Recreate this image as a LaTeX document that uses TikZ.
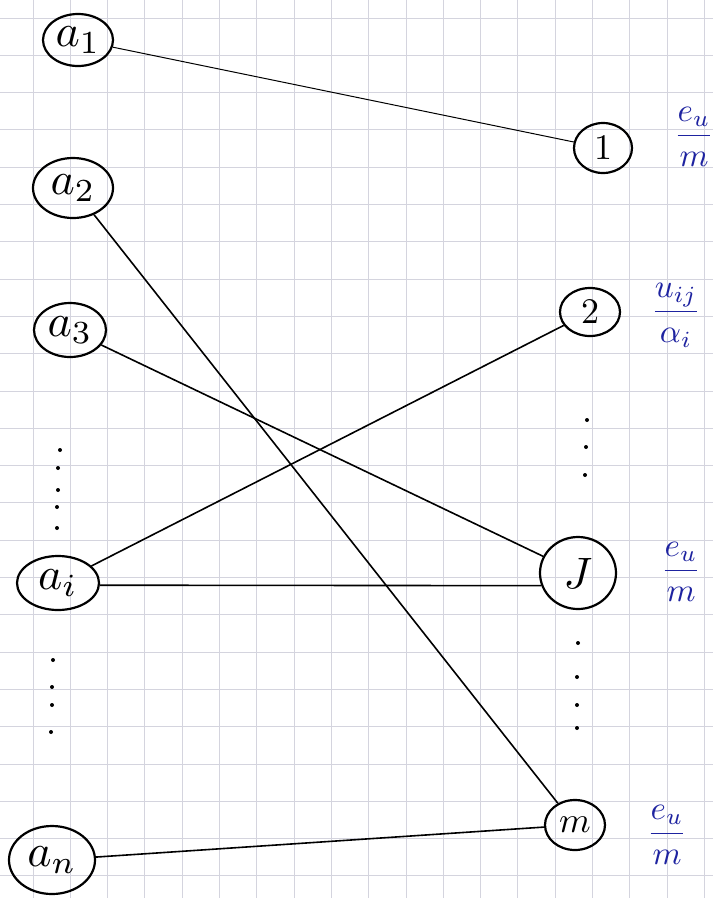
\documentclass[tikz,border=0pt]{standalone}
\usepackage{amsmath}
\usepackage{graphicx}
\usetikzlibrary{shapes.geometric}
\definecolor{gridc}{RGB}{212,212,222}
\definecolor{inkblue}{RGB}{30,35,160}
\newcommand{\vlab}[2][4.6]{\scalebox{#1}{$#2$}}
\newcommand{\blab}[2]{\scalebox{3.3}{$\dfrac{#1}{#2}$}}
\begin{document}
\begin{tikzpicture}[x=1pt,y=-1pt,
  vert/.style={ellipse,draw,line width=2.2pt,inner sep=0pt},
  edge/.style={line width=1.6pt},
  thin edge/.style={line width=1pt},
  lab/.style={text=inkblue,inner sep=0pt},
  dotc/.style={circle,fill=black,inner sep=0pt,minimum size=4pt}]
\useasboundingbox (0,0) rectangle (713,898);
\clip (0,0) rectangle (713,898);
\fill[white] (0,0) rectangle (713,898);
% grid
\foreach \k in {0,...,19} {
  \draw[gridc,line width=1pt] ({33+37.3*(\k-1)},0) -- ({33+37.3*(\k-1)},898);
}
\foreach \k in {0,...,24} {
  \draw[gridc,line width=1pt] (0,{18+37.3*(\k-1)}) -- (713,{18+37.3*(\k-1)});
}
% left nodes
\node[vert,minimum width=70pt,minimum height=52pt] (a1) at (78,40) {\vlab{a_1}};
\node[vert,minimum width=80pt,minimum height=60pt] (a2) at (73,188) {\vlab{a_2}};
\node[vert,minimum width=72pt,minimum height=54pt] (a3) at (70,330) {\vlab{a_3}};
\node[vert,minimum width=82pt,minimum height=54pt] (ai) at (58,583) {\vlab{a_i}};
\node[vert,minimum width=86pt,minimum height=68pt] (an) at (52,860) {\vlab{a_n}};
% right nodes
\node[vert,minimum width=58pt,minimum height=50pt] (r1) at (603,148) {\vlab[3.6]{1}};
\node[vert,minimum width=60pt,minimum height=48pt] (r2) at (590,312) {\vlab[3.6]{2}};
\node[vert,minimum width=76pt,minimum height=72pt] (rJ) at (578,573) {\vlab[4.4]{J}};
\node[vert,minimum width=60pt,minimum height=50pt] (rm) at (575,825) {\vlab[3.6]{m}};
% edges
\draw[thin edge] (a1) -- (r1);
\draw[edge] (a2) -- (rm);
\draw[edge] (a3) -- (rJ);
\draw[edge] (ai) -- (r2);
\draw[edge] (ai.-3) -- (rJ.199);
\draw[edge] (an) -- (rm);
% dots
\foreach \y/\x in {450/60,468/58,490/58,507/57,528/57,660/53,687/52,705/52,732/51}
  \node[dotc] at (\x,\y) {};
\foreach \y/\x in {420/587,447/586,475/585,643/578,677/577,705/577,728/577}
  \node[dotc] at (\x,\y) {};
% labels
\node[lab] (l1) at (694,137) {\blab{e_u}{m}};
\node[lab] (l2) at (676,315) {\blab{u_{ij}}{\alpha_i}};
\node[lab] (l3) at (681,572) {\blab{e_u}{m}};
\node[lab] (l4) at (667,835) {\blab{e_u}{m}};
\end{tikzpicture}
\end{document}
